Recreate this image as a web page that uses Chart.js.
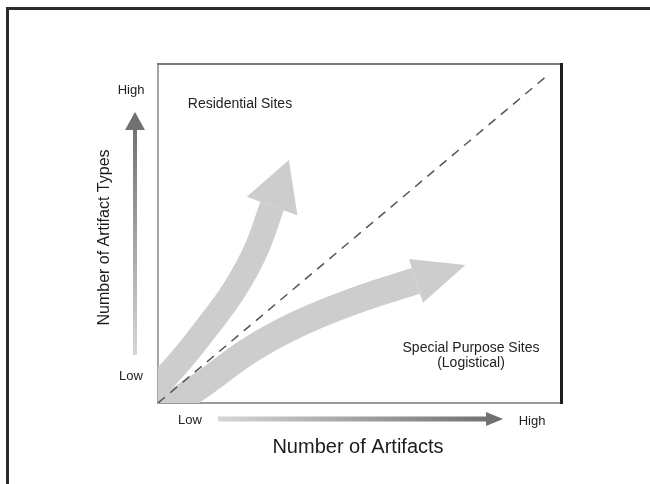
<!DOCTYPE html>
<html>
<head>
<meta charset="utf-8">
<script src="https://cdn.jsdelivr.net/npm/chart.js@4.4.0/dist/chart.umd.min.js"></script>
<style>
  html, body { margin: 0; padding: 0; background: #fff; overflow: hidden; }
  #wrap { position: relative; width: 650px; height: 484px; overflow: hidden; }
  #frame { position: absolute; left: 6px; top: 7px; width: 700px; height: 600px; border: 3px solid #2b2b2b; }
  canvas { position: absolute; left: 0; top: 0; }
</style>
</head>
<body>
<div id="wrap">
  <div id="frame"></div>
  <canvas id="chart" width="650" height="484"></canvas>
</div>
<script>
// --- Dados (escala conceitual 0..10) ---
const seriesNames = ['Residential Sites', 'Special Purpose Sites', '(Logistical)'];
const axisTitles = ['Number of Artifacts', 'Number of Artifact Types'];
const tickLabels = ['Low', 'High'];

const residentialX = [-0.45, 0.42, 1.22, 1.89, 2.43, 2.83];
const residentialY = [0.00, 1.06, 2.24, 3.33, 4.51, 5.81];

const logisticalX = [-0.32, 1.04, 2.28, 3.52, 5.01, 6.40];
const logisticalY = [-0.53, 0.50, 1.56, 2.36, 3.07, 3.60];

const diagonalX = [0, 9.68];
const diagonalY = [0, 9.68];

const toPoints = (xs, ys) => xs.map((x, i) => ({ x: x, y: ys[i] }));

const FONT = "'Liberation Sans', Arial, sans-serif";
const BAND = '#cdcdcd';

// pontas de seta no fim de cada faixa
const arrowHeads = {
    id: 'arrowHeads',
    afterDatasetDraw(chart, args) {
        const ds = chart.data.datasets[args.index];
        if (!ds.head) return;
        const pts = args.meta.data;
        const last = pts[pts.length - 1];
        const prev = pts[pts.length - 2];
        let dx = last.x - prev.x, dy = last.y - prev.y;
        const len = Math.hypot(dx, dy);
        dx /= len; dy /= len;
        const hw = ds.head.width / 2;
        const ctx = chart.ctx;
        ctx.save();
        ctx.fillStyle = ds.borderColor;
        ctx.beginPath();
        ctx.moveTo(last.x - dy * hw, last.y + dx * hw);
        ctx.lineTo(last.x + dx * ds.head.length, last.y + dy * ds.head.length);
        ctx.lineTo(last.x + dy * hw, last.y - dx * hw);
        ctx.closePath();
        ctx.fill();
        ctx.restore();
    }
};

// rótulos, títulos e setas com gradiente
const decorations = {
    id: 'decorations',
    afterDraw(chart) {
        const ctx = chart.ctx;
        const a = chart.chartArea;
        ctx.save();
        ctx.textAlign = 'center';
        ctx.textBaseline = 'middle';

        // seta vertical
        const ax = a.left - 23;
        let g = ctx.createLinearGradient(0, a.top + 49, 0, a.bottom - 48);
        g.addColorStop(0, '#6c6c6c');
        g.addColorStop(1, '#d6d6d6');
        ctx.fillStyle = g;
        ctx.fillRect(ax - 2, a.top + 64, 4, a.bottom - 48 - (a.top + 64));
        ctx.beginPath();
        ctx.moveTo(ax, a.top + 48);
        ctx.lineTo(ax + 10, a.top + 66);
        ctx.lineTo(ax - 10, a.top + 66);
        ctx.closePath();
        ctx.fill();

        // seta horizontal
        const ay = a.bottom + 16;
        g = ctx.createLinearGradient(a.left + 60, 0, a.left + 345, 0);
        g.addColorStop(0, '#d6d6d6');
        g.addColorStop(1, '#6c6c6c');
        ctx.fillStyle = g;
        ctx.fillRect(a.left + 60, ay - 2.5, 270, 5);
        ctx.beginPath();
        ctx.moveTo(a.left + 345, ay);
        ctx.lineTo(a.left + 328, ay - 7);
        ctx.lineTo(a.left + 328, ay + 7);
        ctx.closePath();
        ctx.fill();

        ctx.fillStyle = '#222';
        ctx.font = '13px ' + FONT;
        ctx.fillText(tickLabels[1], ax - 4, a.top + 26);
        ctx.fillText(tickLabels[0], ax - 4, a.bottom - 27);
        ctx.fillText(tickLabels[0], a.left + 32, ay + 1);
        ctx.fillText(tickLabels[1], a.left + 374, ay + 2);

        ctx.font = '14px ' + FONT;
        ctx.fillText(seriesNames[0], a.left + 82, a.top + 40);
        ctx.fillText(seriesNames[1], a.left + 313, a.bottom - 55);
        ctx.fillText(seriesNames[2], a.left + 313, a.bottom - 40);

        ctx.fillStyle = '#1c1c1c';
        ctx.font = '20px ' + FONT;
        ctx.fillText(axisTitles[0], 358, a.bottom + 44);

        ctx.save();
        ctx.translate(a.left - 53, (a.top + a.bottom) / 2 + 4);
        ctx.rotate(-Math.PI / 2);
        ctx.font = '16px ' + FONT;
        ctx.fillText(axisTitles[1], 0, 0);
        ctx.restore();

        ctx.restore();
    }
};

const hiddenAxis = (position, color, width) => ({
    type: 'linear',
    position: position,
    min: 0,
    max: 10,
    ticks: { display: false },
    grid: { display: false, drawTicks: false },
    border: { display: true, color: color, width: width }
});

new Chart(document.getElementById('chart'), {
    type: 'line',
    data: {
        datasets: [
            {
                label: seriesNames[0],
                data: toPoints(residentialX, residentialY),
                borderColor: BAND,
                borderWidth: 25,
                tension: 0.4,
                pointRadius: 0,
                clip: 0,
                head: { length: 49, width: 54 },
                order: 2
            },
            {
                label: seriesNames[1] + ' ' + seriesNames[2],
                data: toPoints(logisticalX, logisticalY),
                borderColor: BAND,
                borderWidth: 27,
                tension: 0.4,
                pointRadius: 0,
                clip: 0,
                head: { length: 52, width: 46 },
                order: 3
            },
            {
                label: 'diagonal',
                data: toPoints(diagonalX, diagonalY),
                borderColor: '#555',
                borderWidth: 1.5,
                borderDash: [9, 7],
                pointRadius: 0,
                clip: 0,
                order: 1
            }
        ]
    },
    options: {
        responsive: false,
        animation: false,
        devicePixelRatio: 1,
        layout: { padding: { left: 158, top: 64, right: 89, bottom: 81 } },
        scales: {
            x: hiddenAxis('bottom', '#9a9a9a', 2),
            y: hiddenAxis('left', '#a5a5a5', 2),
            x2: Object.assign(hiddenAxis('top', '#7a7a7a', 2), { axis: 'x' }),
            y2: Object.assign(hiddenAxis('right', '#1e1e1e', 3), { axis: 'y' })
        },
        plugins: {
            legend: { display: false },
            tooltip: { enabled: false }
        }
    },
    plugins: [arrowHeads, decorations]
});
</script>
</body>
</html>
